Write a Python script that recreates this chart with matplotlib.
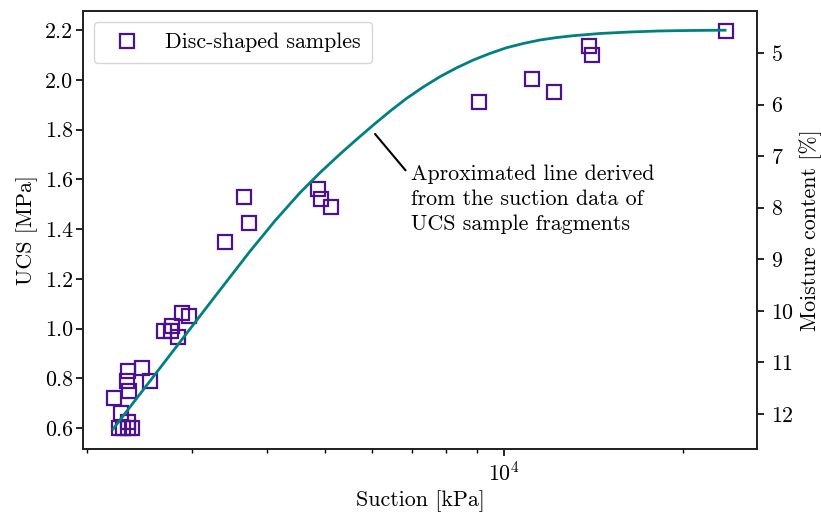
import matplotlib
matplotlib.use("Agg")
import matplotlib.pyplot as plt

plt.rcParams['font.family'] = 'serif'
plt.rcParams['font.serif'] = ['cmr10']
plt.rcParams['mathtext.fontset'] = 'cm'
plt.rcParams['axes.unicode_minus'] = False
plt.rcParams['axes.formatter.use_mathtext'] = True
plt.rcParams['font.size'] = 15.8

# Disc-shaped samples: suction [kPa] and UCS [MPa]
suction_samples = [2219, 2262, 2292, 2342, 2379, 2278, 2342, 2335, 2466, 2333, 2349,
                   2547, 2688, 2760, 2773, 2839, 2884, 2961, 3404, 3663, 3734,
                   4874, 4940, 5124, 9080, 11140, 12130, 13890, 14050, 23580]
ucs_samples = [0.719, 0.600, 0.602, 0.625, 0.602, 0.659, 0.602, 0.829, 0.843, 0.789, 0.750,
               0.789, 0.990, 0.990, 1.010, 0.967, 1.063, 1.050, 1.348, 1.529, 1.424,
               1.561, 1.521, 1.490, 1.911, 2.003, 1.952, 2.137, 2.100, 2.197]

# Approximated line: suction [kPa] vs moisture content [%]
suction_line = [2208, 2547, 2897, 3296, 3749, 4129, 4547, 4912, 5307, 5656,
                6036, 6437, 6867, 7321, 7807, 8330, 8882, 9474, 10105, 10774,
                11493, 12259, 13072, 14491, 16271, 18200, 20516, 23490]
moisture_line = [12.291, 11.360, 10.519, 9.677, 8.843, 8.252, 7.709, 7.321, 6.960, 6.677,
                 6.396, 6.129, 5.878, 5.659, 5.460, 5.287, 5.136, 5.008, 4.897, 4.816,
                 4.748, 4.701, 4.665, 4.622, 4.593, 4.573, 4.564, 4.558]

ucs_ticks = [0.6, 0.8, 1.0, 1.2, 1.4, 1.6, 1.8, 2.0, 2.2]
moisture_ticks = [5, 6, 7, 8, 9, 10, 11, 12]

fig = plt.figure(figsize=(8.21, 5.14), dpi=100)
ax = fig.add_axes([0.1011, 0.1274, 0.8210, 0.8512])
ax2 = ax.twinx()

ax.set_xscale('log')
ax.plot(suction_samples, ucs_samples, linestyle='none', marker='s', markersize=10,
        markerfacecolor='none', markeredgecolor='#4b1190', markeredgewidth=1.6,
        label='Disc-shaped samples', zorder=3)
ax2.plot(suction_line, moisture_line, color='#008080', linewidth=2.0, zorder=2,
         solid_joinstyle='round')

ax.set_xlim(1966, 26580)
ax.set_ylim(0.5176, 2.2764)
ax2.set_ylim(12.669, 4.186)
ax.set_yticks(ucs_ticks)
ax.set_yticklabels([f"{v:.1f}" for v in ucs_ticks])
ax2.set_yticks(moisture_ticks)

ax.set_xlabel('Suction [kPa]', labelpad=4)
ax.set_ylabel('UCS [MPa]', labelpad=5)
ax2.set_ylabel('Moisture content [%]', labelpad=4)

for a in (ax, ax2):
    for s in a.spines.values():
        s.set_linewidth(1.3)
        s.set_color('#222222')
ax.tick_params(axis='y', which='major', length=5, width=1.2, pad=2)
ax.tick_params(axis='x', which='major', length=5, width=1.2, pad=4)
ax.tick_params(axis='x', which='minor', length=3, width=1.0)
ax2.tick_params(axis='y', which='major', length=5, width=1.2, pad=5)

ax.legend(loc='upper left', handletextpad=0.75, borderpad=0.5,
          bbox_to_anchor=(0.0, 1.0), borderaxespad=0.5)

ax.annotate('Aproximated line derived\nfrom the suction data of\nUCS sample fragments',
            xy=(6076, 1.782), xytext=(6982, 1.660), textcoords='data',
            ha='left', va='top', linespacing=1.36,
            arrowprops=dict(arrowstyle='-', color='black', lw=1.5,
                            relpos=(0.0, 0.82), shrinkA=3, shrinkB=0))

fig.savefig('out.png', dpi=100)
